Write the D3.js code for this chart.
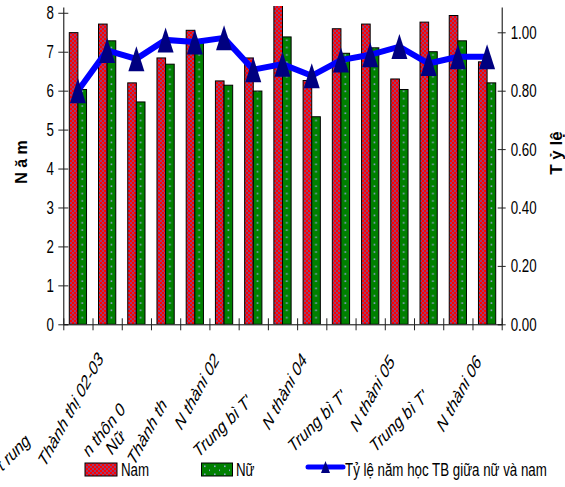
<!DOCTYPE html>
<html>
<head>
<meta charset="utf-8">
<script src="https://cdn.jsdelivr.net/npm/d3@7/dist/d3.min.js"></script>
<style>
  body { margin: 0; background: #fff; }
  svg { display: block; }
  text { font-family: "Liberation Sans", Arial, sans-serif; fill: #000; }
</style>
</head>
<body>
<svg id="chart" width="565" height="487"></svg>
<script>
// ---- data -------------------------------------------------------------
const categories = ["1","2","3","4","5","6","7","8","9","10","11","12","13","14","15"];
const nam  = [7.49, 7.71, 6.20, 6.84, 7.55, 6.25, 6.84, 8.28, 6.26, 7.59, 7.71, 6.30, 7.76, 7.93, 6.74];
const nu   = [6.03, 7.28, 5.71, 6.68, 7.25, 6.14, 5.99, 7.38, 5.33, 6.96, 7.10, 6.03, 7.00, 7.28, 6.20];
const tyLe = [0.800, 0.938, 0.909, 0.974, 0.967, 0.981, 0.872, 0.891, 0.851, 0.905, 0.923, 0.951, 0.893, 0.916, 0.916];

const leftTicks  = [0, 1, 2, 3, 4, 5, 6, 7, 8];
const rightTicks = [0, 0.2, 0.4, 0.6, 0.8, 1.0];

// category labels under the axis (rotated, partly overlapping)
const tickLabels = [
  { cat: 0,  text: "t rung",          kind: "plain"  },
  { cat: 1,  text: "Thành thị 02-03", kind: "italic" },
  { cat: 1,  text: "n thôn 0",        kind: "mid"    },
  { cat: 1,  text: "Nữ",              kind: "mid"    },
  { cat: 3,  text: "Thành th",        kind: "italic" },
  { cat: 5,  text: "N thàni 02",      kind: "italic" },
  { cat: 6,  text: "Trung bì T'",     kind: "plain"  },
  { cat: 8,  text: "N thàni 04",      kind: "italic" },
  { cat: 9,  text: "Trung bì T'",     kind: "plain"  },
  { cat: 11, text: "N thàni 05",      kind: "italic" },
  { cat: 12, text: "Trung bì T'",     kind: "plain"  },
  { cat: 14, text: "N thàni 06",      kind: "italic" }
];

const legendNam  = "Nam";
const legendNu   = "Nữ";
const legendLine = "Tỷ lệ năm học TB giữa nữ và nam";
const titleLeft  = "N ă m";
const titleRight = "T ỷ lệ";

// ---- layout -----------------------------------------------------------
const plot = { left: 63.3, right: 501.7, top: 7, bottom: 324.3 };
const SX = 0.72; // horizontal squeeze of the typeface

const svg = d3.select("#chart");
const defs = svg.append("defs");

// red checker fill
const pRed = defs.append("pattern").attr("id", "pRed")
  .attr("patternUnits", "userSpaceOnUse").attr("width", 4).attr("height", 4);
pRed.append("rect").attr("width", 4).attr("height", 4).attr("fill", "#ff0000");
pRed.append("rect").attr("width", 2).attr("height", 2).attr("fill", "#9c3c70");
pRed.append("rect").attr("x", 2).attr("y", 2).attr("width", 2).attr("height", 2).attr("fill", "#9c3c70");

const x = d3.scaleBand().domain(categories).range([plot.left, plot.right]).padding(0);
const bw = x.bandwidth();
const barW = bw * 0.295;
const gap = (bw - 2 * barW) / 2;

// green dotted fill: one dot column centred on each green bar
const pGreen = defs.append("pattern").attr("id", "pGreen")
  .attr("patternUnits", "userSpaceOnUse").attr("x", plot.left).attr("y", 0)
  .attr("width", bw).attr("height", 7.3);
pGreen.append("rect").attr("width", bw).attr("height", 7.3).attr("fill", "#008000");
pGreen.append("rect").attr("x", gap + barW * 1.5 - 0.8).attr("y", 3).attr("width", 1.6).attr("height", 1.6).attr("fill", "#8fa3cf");

const pGreenLeg = defs.append("pattern").attr("id", "pGreenLeg")
  .attr("patternUnits", "userSpaceOnUse").attr("width", 10).attr("height", 8);
pGreenLeg.append("rect").attr("width", 10).attr("height", 8).attr("fill", "#008000");
pGreenLeg.append("rect").attr("x", 4).attr("y", 1.5).attr("width", 1.6).attr("height", 1.6).attr("fill", "#8fa3cf");
pGreenLeg.append("rect").attr("x", 9).attr("y", 5.5).attr("width", 1.6).attr("height", 1.6).attr("fill", "#8fa3cf");

defs.append("clipPath").attr("id", "plotClip").append("rect")
  .attr("x", 0).attr("y", plot.top - 1).attr("width", 565).attr("height", plot.bottom - plot.top + 1);

const yL = d3.scaleLinear().domain([0, (plot.bottom - plot.top) / 38.94]).range([plot.bottom, plot.top]);
const yR = d3.scaleLinear().domain([0, (plot.bottom - plot.top) / 292]).range([plot.bottom, plot.top]);

// ---- bars -------------------------------------------------------------
const bars = svg.append("g").attr("clip-path", "url(#plotClip)");
bars.selectAll("rect.nam").data(nam).join("rect")
  .attr("x", (d, i) => x(categories[i]) + gap)
  .attr("y", d => yL(d))
  .attr("width", barW)
  .attr("height", d => yL(0) - yL(d))
  .attr("fill", "url(#pRed)").attr("stroke", "#000").attr("stroke-width", 1);
bars.selectAll("rect.nu").data(nu).join("rect")
  .attr("x", (d, i) => x(categories[i]) + gap + barW)
  .attr("y", d => yL(d))
  .attr("width", barW)
  .attr("height", d => yL(0) - yL(d))
  .attr("fill", "url(#pGreen)").attr("stroke", "#000").attr("stroke-width", 1);

// ---- axes -------------------------------------------------------------
function squeezeLabels(g, dx) {
  g.selectAll(".tick text")
    .attr("x", dx / SX)
    .attr("transform", `scale(${SX},1)`)
    .style("font-size", "18.5px")
    .attr("font-family", null);
}

const axL = svg.append("g").attr("transform", `translate(${plot.left},0)`)
  .call(d3.axisLeft(yL).tickValues(leftTicks).tickFormat(d3.format("d")).tickSizeOuter(0));
axL.selectAll(".tick line").attr("x1", -5).attr("x2", 5);
squeezeLabels(axL, -9.3);

const axR = svg.append("g").attr("transform", `translate(${plot.right},0)`)
  .call(d3.axisRight(yR).tickValues(rightTicks).tickFormat(d3.format(".2f")).tickSizeOuter(0));
axR.selectAll(".tick line").attr("x1", -4).attr("x2", 4);
squeezeLabels(axR, 9);

const xEdge = d3.scaleLinear().domain([0, categories.length]).range([plot.left, plot.right]);
const axB = svg.append("g").attr("transform", `translate(0,${plot.bottom})`)
  .call(d3.axisBottom(xEdge).ticks(categories.length).tickFormat("").tickSizeOuter(0));
axB.selectAll(".tick line").attr("y1", -6).attr("y2", 6);

svg.selectAll(".domain").attr("stroke", "#000");
svg.selectAll(".tick line").attr("stroke", "#222");

// ---- ratio line -------------------------------------------------------
const cx = i => x(categories[i]) + bw / 2;
svg.append("path")
  .datum(tyLe)
  .attr("d", d3.line().x((d, i) => cx(i)).y(d => yR(d)))
  .attr("fill", "none").attr("stroke", "#0000ff").attr("stroke-width", 6)
  .attr("stroke-linejoin", "miter");
const tri = (w, h) => `M0,${-h / 2}L${w / 2},${h / 2}L${-w / 2},${h / 2}Z`;
svg.selectAll("path.mk").data(tyLe).join("path")
  .attr("transform", (d, i) => `translate(${cx(i)},${yR(d)})`)
  .attr("d", tri(16, 25)).attr("fill", "#000080");

// ---- category labels --------------------------------------------------
const labelStyle = {
  plain:  { angle: -36, italic: false },
  italic: { angle: -53, italic: true  },
  mid:    { angle: -42, italic: false }
};
const labelPlace = [[-47, 443], [-3, 359], [19, 411], [19, 438], [2, 405], [-4, 360],
                    [-1, 404], [-4, 360], [6, 399], [-4, 362], [0, 399], [-5, 362]];
svg.append("g").selectAll("text").data(tickLabels).join("text")
  .attr("transform", (d, i) => `translate(${cx(d.cat) + labelPlace[i][0]},${labelPlace[i][1]}) scale(${SX},1) rotate(${labelStyle[d.kind].angle})`)
  .attr("text-anchor", "end")
  .style("font-size", "19.5px")
  .style("font-style", d => labelStyle[d.kind].italic ? "italic" : "normal")
  .text(d => d.text);

// ---- axis titles ------------------------------------------------------
svg.append("text")
  .attr("transform", "translate(27,162) rotate(-90)")
  .attr("text-anchor", "middle").style("font-size", "16px").style("font-weight", "bold")
  .text(titleLeft);
svg.append("text")
  .attr("transform", "translate(562,153) rotate(-90)")
  .attr("text-anchor", "middle").style("font-size", "17px").style("font-weight", "bold")
  .text(titleRight);

// ---- legend -----------------------------------------------------------
const leg = svg.append("g");
leg.append("rect").attr("x", 85).attr("y", 463).attr("width", 32).attr("height", 13)
  .attr("fill", "url(#pRed)").attr("stroke", "#000");
leg.append("text").attr("transform", `translate(121,476) scale(${SX},1)`)
  .style("font-size", "18.5px").text(legendNam);
leg.append("rect").attr("x", 201.5).attr("y", 463).attr("width", 31).attr("height", 13)
  .attr("fill", "url(#pGreenLeg)").attr("stroke", "#000");
leg.append("text").attr("transform", `translate(236,476) scale(${SX},1)`)
  .style("font-size", "18.5px").text(legendNu);
leg.append("line").attr("x1", 308).attr("x2", 343).attr("y1", 467).attr("y2", 467)
  .attr("stroke", "#0000ff").attr("stroke-width", 5).attr("stroke-linecap", "round");
leg.append("path").attr("transform", "translate(325.5,467)").attr("d", tri(9, 12)).attr("fill", "#000080");
leg.append("text").attr("transform", `translate(345,476) scale(${SX},1)`)
  .style("font-size", "18.5px").text(legendLine);
</script>
</body>
</html>
